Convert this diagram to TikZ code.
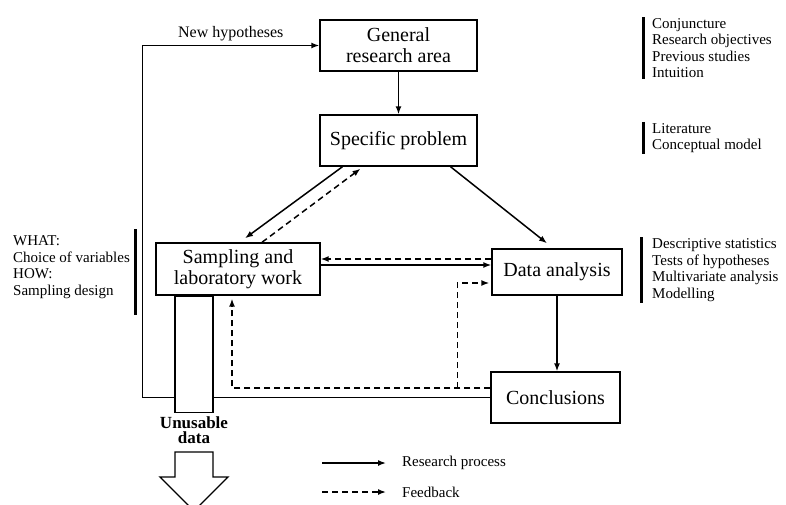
\documentclass[tikz,border=0pt]{standalone}
\usepackage{fontspec}
\setmainfont{Liberation Serif}
\usepackage{tikz}
\usetikzlibrary{calc}
\usetikzlibrary{arrows.meta}
\usetikzlibrary{positioning}

\begin{document}
\begin{tikzpicture}[x=1pt,y=-1pt,
  box/.style={draw,line width=1.4pt,align=center,inner sep=0pt,font=\fontsize{20}{21}\selectfont},
  proc/.style={line width=1.5pt,-{Latex[length=8pt,width=6pt]}},
  feed/.style={line width=1.5pt,dash pattern=on 6pt off 4pt,-{Latex[length=8pt,width=6pt]}},
  lst/.style={align=left,anchor=west,inner sep=0pt,font=\fontsize{15}{16.5}\selectfont},
  sidebar/.style={line width=3pt}]

\useasboundingbox (0,0) rectangle (786,505);

\node [box,minimum width=157pt,minimum height=51pt] (gen) at (398.5,45.5) {General\\research area};
\node [box,minimum width=157pt,minimum height=51pt] (spec) at (398.5,140.5) {Specific problem};
\node [box,minimum width=164pt,minimum height=52pt] (samp) at (238,269) {Sampling and\\laboratory work};
\node [box,minimum width=130pt,minimum height=46pt] (data) at (557,272) {Data analysis};
\node [box,minimum width=129pt,minimum height=51pt] (concl) at (555.5,397.5) {Conclusions};

\draw [proc] (gen) -- (spec);
\draw [proc] ($(spec.south)+(-56,0)$) -- ($(samp.north)+(7,-4)$);
\draw [feed] ($(samp.north)+(24,0)$) -- ($(spec.south)+(-38,2)$);
\draw [proc] ($(spec.south)+(52,0)$) -- ($(data.north)+(-10,-5)$);

\coordinate (sd) at ($(samp.east)+(0,-4)$);
\coordinate (ds) at ($(samp.east)+(0,-10)$);
\draw [proc] (sd) -- (sd -| data.west);
\draw [feed] (ds -| data.west) -- (ds);

\draw [proc] (data.south) -- (data.south |- concl.north);

\coordinate (fb) at ($(concl.west)+(0,-9.5)$);
\coordinate (fk) at ($(fb)+(-33,0)$);
\draw [feed] (fb) -| ($(samp.south)+(-6,3)$);
\draw [feed] (fk) |- ($(data.west)+(-2,11)$);

\draw [proc] (concl.west) -| ($(gen.west)+(-177,0)$) -- node (nh) [above,font=\fontsize{16}{18}\selectfont] {New hypotheses} (gen.west);

\node [draw,line width=1.4pt,fill=white,minimum width=38pt,minimum height=116pt,inner sep=0pt,anchor=north] (ubar) at ($(samp.south)+(-44,0)$) {};
\node [below=3pt of ubar,align=center,inner sep=0pt,font=\bfseries\fontsize{17}{15.5}\selectfont] (unl) {Unusable\\data};
\draw [line width=1.4pt] (175,452) -- (213,452) -- (213,477) -- (228,477) -- (194,511) -- (160,477) -- (175,477) -- cycle;

\node [lst] (what) at (13,267) {WHAT:\\Choice of variables\\HOW:\\Sampling design};
\draw [sidebar] ($(what.north east)+(5,-6)$) -- ($(what.south east)+(5,16)$);

\node [lst] (ctx) at (652,48) {Conjuncture\\Research objectives\\Previous studies\\Intuition};
\draw [sidebar] ($(ctx.north west)+(-9,-1)$) -- ($(ctx.south west)+(-9,1)$);
\node [lst] (lit) at (652,138) {Literature\\Conceptual model};
\draw [sidebar] ($(lit.north west)+(-9,-1)$) -- ($(lit.south west)+(-9,1)$);
\node [lst] (stat) at (652,270) {Descriptive statistics\\Tests of hypotheses\\Multivariate analysis\\Modelling};
\draw [sidebar] ($(stat.north west)+(-11,-1)$) -- ($(stat.south west)+(-11,1)$);

\node [anchor=west,inner sep=0pt,font=\fontsize{15}{16}\selectfont] (lrp) at (402,463) {Research process};
\node [anchor=west,inner sep=0pt,font=\fontsize{15}{16}\selectfont] (lfb) at (402,492) {Feedback};
\coordinate (lps) at (322,463);
\coordinate (lfs) at (322,492);
\draw [proc] (lps) -- ($(lrp.west)+(-16,0)$);
\draw [feed] (lfs) -- ($(lfb.west)+(-16,0)$);

\end{tikzpicture}
\end{document}
